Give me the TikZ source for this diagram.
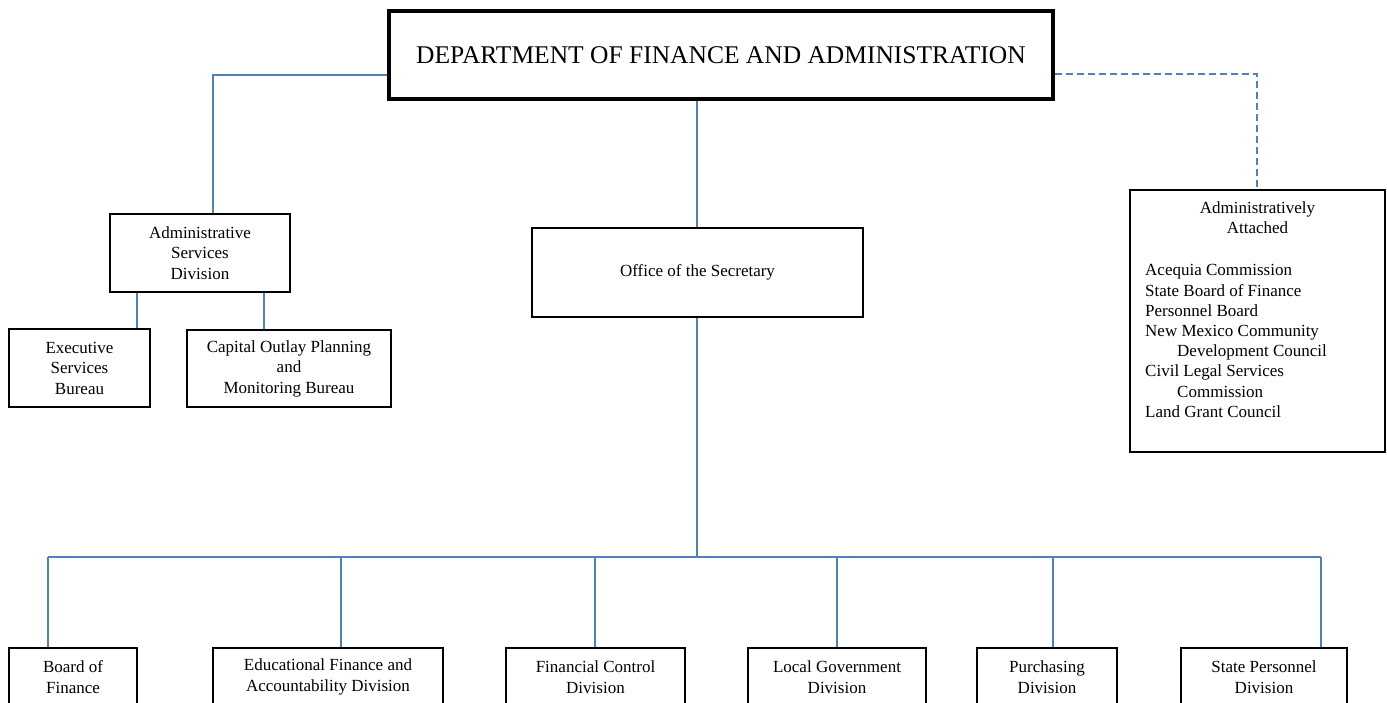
\documentclass[tikz,border=0pt]{standalone}
\usepackage{fontspec}
\setmainfont{Liberation Serif}
\definecolor{linkblue}{HTML}{4F81BD}
\begin{document}
\begin{tikzpicture}[x=1pt,y=-1pt,
  box/.style={draw=black,line width=2.6pt,fill=white,align=center,inner sep=0pt,
    font=\fontsize{17}{20.5}\selectfont},
  conn/.style={draw=linkblue,line width=2.4pt},
  dconn/.style={draw=linkblue,line width=2.4pt,dash pattern=on 7pt off 4pt},
  txt/.style={inner sep=0pt,font=\fontsize{17}{20.2}\selectfont}]
\clip (0,0) rectangle (1387,702);
\fill[white] (0,0) rectangle (1387,702);

% boxes
\node[box,line width=4.2pt,minimum width=664pt,minimum height=88pt,
      font=\fontsize{25.5}{29}\selectfont] (top) at (721,55) {DEPARTMENT OF FINANCE AND ADMINISTRATION};
\node[box,minimum width=180pt,minimum height=78pt] (adm) at (200,253) {Administrative\\Services\\Division};
\node[box,minimum width=141pt,minimum height=78pt] (exe) at (79.5,368) {Executive\\Services\\Bureau};
\node[box,minimum width=204pt,minimum height=77pt] (cap) at (289,368.5) {Capital Outlay Planning\\and\\Monitoring Bureau};
\node[box,minimum width=331pt,minimum height=89pt] (sec) at (697.5,272.5) {Office of the Secretary};
\node[box,minimum width=255pt,minimum height=262pt] (att) at (1257.5,321) {};
\node[txt,align=center] (atttitle) at (1257.5,218) {Administratively\\Attached};
\node[txt,align=left,anchor=west] (attlist) at (1145,341) {Acequia Commission\\State Board of Finance\\Personnel Board\\New Mexico Community\\\hspace*{32pt}Development Council\\Civil Legal Services\\\hspace*{32pt}Commission\\Land Grant Council};

\node[box,minimum width=128pt,minimum height=58pt] (b1) at (73,677) {Board of\\Finance};
\node[box,minimum width=230pt,minimum height=58pt] (b2) at (328,677) {Educational Finance and\\Accountability Division};
\node[box,minimum width=179pt,minimum height=58pt] (b3) at (595.5,677) {Financial Control\\Division};
\node[box,minimum width=178pt,minimum height=58pt] (b4) at (837,677) {Local Government\\Division};
\node[box,minimum width=140pt,minimum height=58pt] (b5) at (1047,677) {Purchasing\\Division};
\node[box,minimum width=166pt,minimum height=58pt] (b6) at (1264,677) {State Personnel\\Division};

% connector junctions
\coordinate (jl) at (213,75);
\coordinate (jr) at (1257,74);
\coordinate (jc) at (697,150);
\coordinate (da) at (137,300);
\coordinate (db) at (264,300);
\coordinate (bus) at (697,557);
\coordinate (p1) at (48,557);
\coordinate (p2) at (341,557);
\coordinate (p3) at (595,557);
\coordinate (p4) at (837,557);
\coordinate (p5) at (1053,557);
\coordinate (p6) at (1321,557);

\draw[conn] (jl -| top.west) -- (jl) -- (jl |- adm.north);
\draw[dconn] (jr -| top.east) -- (jr) -- (jr |- att.north);
\draw[conn] (jc |- top.south) -- (jc |- sec.north);
\draw[conn] (da |- adm.south) -- (da |- exe.north);
\draw[conn] (db |- adm.south) -- (db |- cap.north);
\draw[conn] (bus |- sec.south) -- (bus);
\draw[conn] (p1) -- (p6);
\draw[conn] (p1) -- (p1 |- b1.north);
\draw[conn] (p2) -- (p2 |- b2.north);
\draw[conn] (p3) -- (p3 |- b3.north);
\draw[conn] (p4) -- (p4 |- b4.north);
\draw[conn] (p5) -- (p5 |- b5.north);
\draw[conn] (p6) -- (p6 |- b6.north);
\end{tikzpicture}
\end{document}
